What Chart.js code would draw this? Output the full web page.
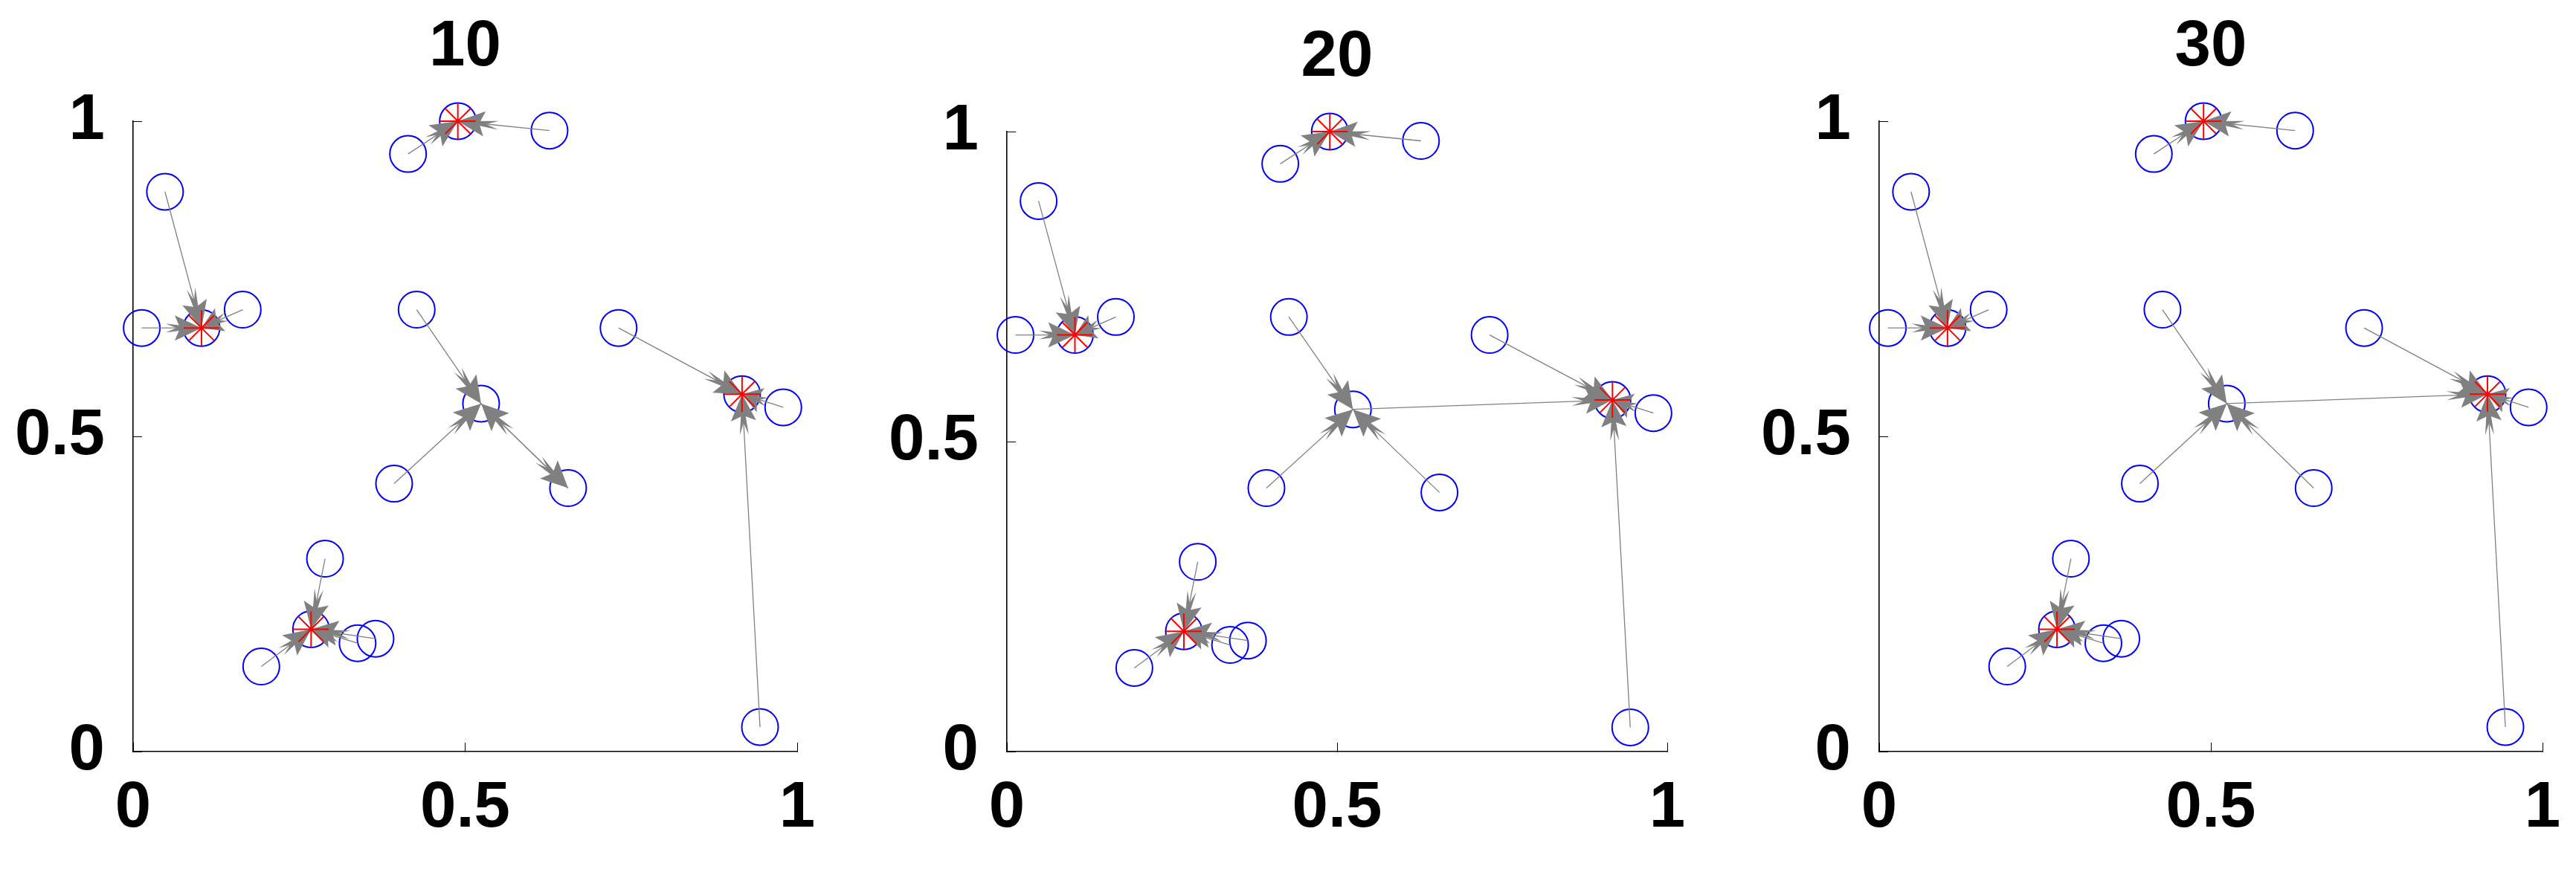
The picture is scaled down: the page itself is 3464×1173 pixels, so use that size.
<!DOCTYPE html>
<html lang="en">
<head>
<meta charset="UTF-8">
<title>Clusters at iterations 10, 20, 30</title>
<script src="https://cdn.jsdelivr.net/npm/chart.js"></script>
<style>
    body {
        margin: 0;
        background: #fff;
        width: 3464px;
        height: 1173px;
        overflow: hidden;
        position: relative;
    }
    canvas {
        position: absolute;
        top: 0;
    }
</style>
</head>
<body>
<canvas id="panel0"></canvas>
<canvas id="panel1"></canvas>
<canvas id="panel2"></canvas>
<script>
// the 20 points, same in every panel
const pointX = [0.048, 0.013, 0.103, 0.165, 0.414, 0.489, 0.627, 0.427, 0.524, 0.393,
                0.655, 0.731, 0.917, 0.979, 0.944, 0.289, 0.268, 0.338, 0.365, 0.193];
const pointY = [0.888, 0.672, 0.672, 0.701, 0.948, 1.000, 0.985, 0.701, 0.552, 0.425,
                0.418, 0.672, 0.567, 0.546, 0.039, 0.306, 0.194, 0.172, 0.179, 0.135];

// exemplars (red stars), as indices into the points
const exemplars = [2, 5, 12, 16];

const titles = ['10', '20', '30'];
const tickValues = [0, 0.5, 1];
const tickLabels = ['0', '0.5', '1'];

// arrows [from, to] for each panel
const arrows10 = [[0, 2], [1, 2], [3, 2], [4, 5], [6, 5], [7, 8], [9, 8], [10, 8], [8, 10],
                  [11, 12], [13, 12], [14, 12], [15, 16], [17, 16], [18, 16], [19, 16]];
const arrows20 = [[0, 2], [1, 2], [3, 2], [4, 5], [6, 5], [7, 8], [9, 8], [10, 8], [8, 12],
                  [11, 12], [13, 12], [14, 12], [15, 16], [17, 16], [18, 16], [19, 16]];
const arrows30 = [[0, 2], [1, 2], [3, 2], [4, 5], [6, 5], [7, 8], [9, 8], [10, 8], [8, 12],
                  [11, 12], [13, 12], [14, 12], [15, 16], [17, 16], [18, 16], [19, 16]];
const panelArrows = [arrows10, arrows20, arrows30];

// plot boxes in page pixels
const boxes = [
    { left: 179, right: 1072, top: 163, bottom: 1011 },
    { left: 1354, right: 2242, top: 177, bottom: 1011 },
    { left: 2527, right: 3419, top: 163, bottom: 1011 }
];
const PAGE_H = 1173;
const Y_AXIS_W = 170;
const RIGHT_PAD = 40;
const FONT = "'Liberation Sans', Arial, Helvetica, sans-serif";
const FONT_SIZE = 87;

function drawHead(ctx, x, y, ux, uy, hl, hw, notch) {
    ctx.beginPath();
    ctx.moveTo(x, y);
    ctx.lineTo(x - ux * hl - uy * hw, y - uy * hl + ux * hw);
    ctx.lineTo(x - ux * hl * notch, y - uy * hl * notch);
    ctx.lineTo(x - ux * hl + uy * hw, y - uy * hl - ux * hw);
    ctx.closePath();
    ctx.fill();
}

const arrowPlugin = {
    id: 'arrows',
    afterDatasetDraw(chart, args, opts) {
        if (args.index !== 0) return; // draw right after the circles
        const xs = chart.scales.x, ys = chart.scales.y, ctx = chart.ctx;
        ctx.save();
        ctx.strokeStyle = '#808080';
        ctx.fillStyle = '#808080';
        ctx.lineWidth = 1.3;
        for (const [a, b] of opts.list) {
            const x1 = xs.getPixelForValue(pointX[a]), y1 = ys.getPixelForValue(pointY[a]);
            const x2 = xs.getPixelForValue(pointX[b]), y2 = ys.getPixelForValue(pointY[b]);
            const dx = x2 - x1, dy = y2 - y1;
            const len = Math.hypot(dx, dy);
            const ux = dx / len, uy = dy / len;
            ctx.beginPath();
            ctx.moveTo(x1, y1);
            ctx.lineTo(x2, y2);
            ctx.stroke();
            // a long thin spike under a solid wedge
            drawHead(ctx, x2, y2, ux, uy, Math.min(55, 0.6 * len), 6, 0.7);
            drawHead(ctx, x2, y2, ux, uy, Math.min(36, 0.45 * len), 17, 0.8);
        }
        ctx.restore();
    }
};

function makeAxis(pos, box) {
    const horizontal = pos === 'bottom';
    return {
        type: 'linear',
        position: pos,
        min: 0,
        max: 1,
        afterBuildTicks: s => { s.ticks = tickValues.map(v => ({ value: v })); },
        afterFit: s => {
            if (horizontal) {
                s.height = PAGE_H - box.bottom;
                s.paddingLeft = 0;
                s.paddingRight = 0;
            } else {
                s.width = Y_AXIS_W;
                s.paddingTop = 0;
                s.paddingBottom = 0;
            }
        },
        ticks: {
            callback: v => tickLabels[tickValues.indexOf(v)],
            color: '#000',
            font: { family: FONT, size: FONT_SIZE, weight: 'bold' },
            padding: horizontal ? 37 : 50,
            maxRotation: 0,
            autoSkip: false
        },
        grid: {
            drawOnChartArea: false,
            drawTicks: true,
            tickLength: -12, // MATLAB style ticks point inwards
            color: '#000',
            lineWidth: 1
        },
        border: { display: true, color: '#000', width: 1.6 }
    };
}

boxes.forEach((box, i) => {
    const canvas = document.getElementById('panel' + i);
    canvas.width = (box.right - box.left) + Y_AXIS_W + RIGHT_PAD;
    canvas.height = PAGE_H;
    canvas.style.left = (box.left - Y_AXIS_W) + 'px';

    const points = pointX.map((x, k) => ({ x: x, y: pointY[k] }));
    const stars = exemplars.map(k => ({ x: pointX[k], y: pointY[k] }));

    new Chart(canvas.getContext('2d'), {
        type: 'scatter',
        data: {
            datasets: [
                {
                    data: points,
                    pointStyle: 'circle',
                    pointRadius: 24.5,
                    backgroundColor: 'rgba(0,0,0,0)',
                    borderColor: '#0000ff',
                    borderWidth: 2,
                    clip: false,
                    order: 2
                },
                {
                    data: stars,
                    pointStyle: 'star',
                    pointRadius: 24,
                    backgroundColor: 'rgba(0,0,0,0)',
                    borderColor: '#ff0000',
                    borderWidth: 2,
                    clip: false,
                    order: 1
                }
            ]
        },
        options: {
            responsive: false,
            devicePixelRatio: 1,
            animation: false,
            events: [],
            layout: { padding: { right: RIGHT_PAD } },
            scales: {
                x: makeAxis('bottom', box),
                y: makeAxis('left', box)
            },
            plugins: {
                legend: { display: false },
                tooltip: { enabled: false },
                title: {
                    display: true,
                    text: titles[i],
                    fullSize: false,
                    color: '#000',
                    font: { family: FONT, size: FONT_SIZE, weight: 'bold' },
                    padding: { top: box.top - FONT_SIZE * 1.2 - 46.4, bottom: 46.4 }
                },
                arrows: { list: panelArrows[i] }
            }
        },
        plugins: [arrowPlugin]
    });
});
</script>
</body>
</html>
